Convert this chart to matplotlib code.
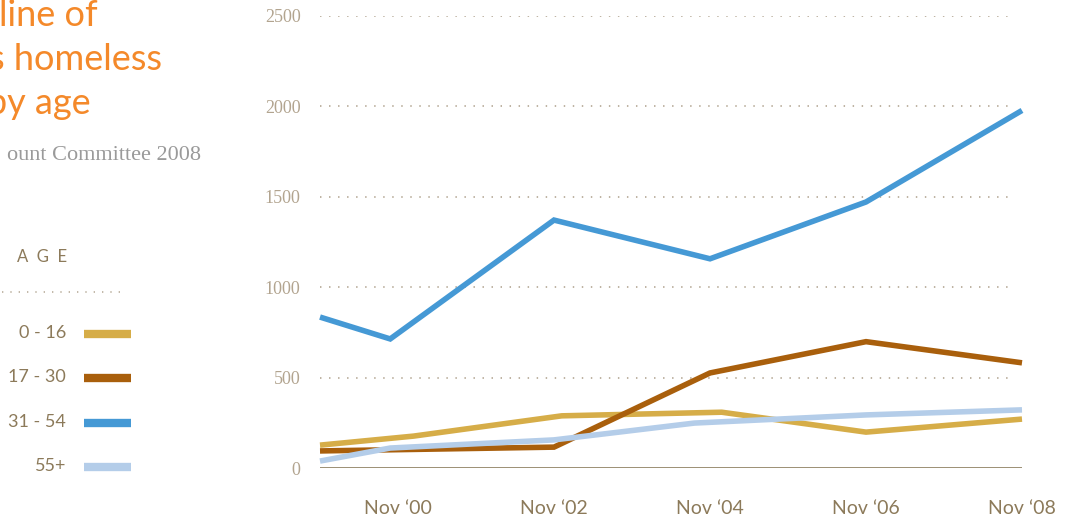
import matplotlib
matplotlib.use('Agg')
from matplotlib import pyplot as plt

# values (x in years, y = people)
years_0_16 = [1999.0, 2000.2, 2002.1, 2004.15, 2006.0, 2008.0]
vals_0_16 = [128, 178, 290, 310, 200, 272]
years_17_30 = [1999.0, 2002.0, 2004.0, 2006.0, 2008.0]
vals_17_30 = [96, 117, 527, 700, 583]
years_31_54 = [1999.0, 1999.9, 2002.0, 2004.0, 2006.0, 2008.0]
vals_31_54 = [836, 715, 1372, 1158, 1472, 1978]
years_55 = [1999.0, 1999.9, 2002.0, 2003.8, 2006.0, 2008.0]
vals_55 = [40, 112, 157, 250, 295, 323]

series_labels = ['0 - 16', '17 - 30', '31 - 54', '55+']
series_colors = ['#d6ad48', '#a95f0c', '#4599d5', '#b4cde9']

xtick_years = [2000, 2002, 2004, 2006, 2008]
xtick_labels = ['Nov \u201800', 'Nov \u201802', 'Nov \u201804', 'Nov \u201806', 'Nov \u201808']
ytick_vals = [0, 500, 1000, 1500, 2000, 2500]

TAN = '#b2a48f'
DARK_TAN = '#8c7a5a'
ORANGE = '#f4892a'

fig = plt.figure(figsize=(10.65, 5.18), dpi=100)
ax = fig.add_axes([320 / 1065, 1 - 468.3 / 518, 702 / 1065, 452.3 / 518])

# dotted grid + solid baseline
for v in ytick_vals[1:]:
    ax.axhline(v, xmin=0, xmax=0.99, color='#b9ad9b', lw=1.3,
               linestyle=(0, (0.8, 4.2)), zorder=1)
ax.axhline(0, color='#8a7b5b', lw=1.9, zorder=1)

all_series = [(years_0_16, vals_0_16), (years_17_30, vals_17_30),
              (years_31_54, vals_31_54), (years_55, vals_55)]
for (xs, ys), c in zip(all_series, series_colors):
    ax.plot(xs, ys, color=c, lw=4.0, solid_joinstyle='miter',
            solid_capstyle='butt', clip_on=False, zorder=3)

ax.set_xlim(1999, 2008)
ax.set_ylim(0, 2500)
for s in ax.spines.values():
    s.set_visible(False)
ax.set_xticks(xtick_years)
ax.set_xticklabels(xtick_labels, fontfamily='Lato', fontsize=14, color=DARK_TAN)
ax.set_yticks(ytick_vals)
ax.set_yticklabels([str(v) for v in ytick_vals], fontfamily='Liberation Serif',
                   fontsize=13, color=TAN)
ax.tick_params(axis='x', length=0, pad=23)
ax.tick_params(axis='y', length=0, pad=14)

# title block, cut off at the left edge like the source
fig.text(98 / 1065, 1 - 15 / 518, 'line of', ha='right', va='center',
         fontfamily='Lato', fontsize=26, color=ORANGE)
fig.text(162 / 1065, 1 - 59 / 518, 's homeless', ha='right', va='center',
         fontfamily='Lato', fontsize=26, color=ORANGE)
fig.text(91 / 1065, 1 - 104 / 518, 'by age', ha='right', va='center',
         fontfamily='Lato', fontsize=26, color=ORANGE)
fig.text(201 / 1065, 1 - 155 / 518, 'ount Committee 2008', ha='right', va='center',
         fontfamily='Liberation Serif', fontsize=16, color='#9a9a9a')

# legend
fig.text(67 / 1065, 1 - 257 / 518, 'A  G  E', ha='right', va='center',
         fontfamily='Lato', fontsize=12, color=DARK_TAN)
leg = fig.add_axes([0, 0, 1, 1], facecolor='none')
leg.set_xlim(0, 1065)
leg.set_ylim(518, 0)
leg.axis('off')
leg.plot([2, 125], [292, 292], color='#b9ad9b', lw=1.2, linestyle=(0, (0.8, 4.2)))
for i, (lab, c) in enumerate(zip(series_labels, series_colors)):
    yy = 334 + i * 44.3
    leg.plot([84, 131], [yy, yy], color=c, lw=6, solid_capstyle='butt')
    leg.text(66, yy - 1, lab, ha='right', va='center', fontfamily='Lato',
             fontsize=13, color=DARK_TAN)

plt.savefig('out.png', dpi=100)
